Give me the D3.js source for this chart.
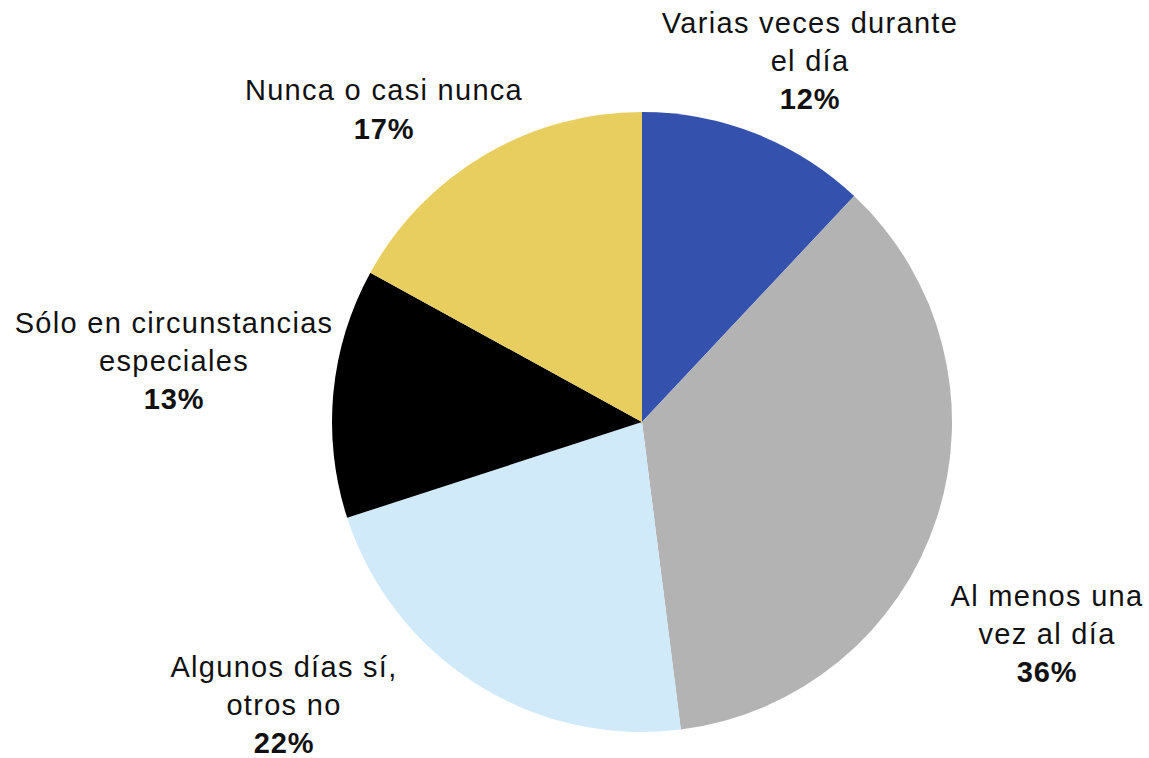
<!DOCTYPE html>
<html>
<head>
<meta charset="utf-8">
<script src="https://cdn.jsdelivr.net/npm/d3@7"></script>
<style>
  body { margin: 0; background: #fff; }
  text { font-family: "Liberation Sans", Arial, sans-serif; fill: #111; }
</style>
</head>
<body>
<div id="chart"></div>
<script>
// categories and values (clockwise from 12 o'clock)
var categories = [
  ["Varias veces durante", "el día"],
  ["Al menos una", "vez al día"],
  ["Algunos días sí,", "otros no"],
  ["Sólo en circunstancias", "especiales"],
  ["Nunca o casi nunca"]
];
var values = [12, 36, 22 , 13, 17];
var colors = ["#3551ae", "#b3b3b3", "#d0eafa", "#000000", "#e8ce5f"];

// label anchor (baseline of first line) for each slice
var labelPos = [[810, 33], [1047, 606], [284, 677], [174, 333], [384, 100]];

var width = 1149, height = 758;
var cx = 642, cy = 422, radius = 310;
var lineH = 37.5;

var svg = d3.select("#chart").append("svg")
  .attr("width", width)
  .attr("height", height);

var pie = d3.pie().sort(null).value(function(d) { return d; });
var arc = d3.arc().innerRadius(0).outerRadius(radius);

var g = svg.append("g").attr("transform", "translate(" + cx + "," + cy + ")");

g.selectAll("path")
  .data(pie(values))
  .enter().append("path")
    .attr("d", arc)
    .attr("fill", function(d, i) { return colors[i]; });

// labels
var lab = svg.selectAll("g.label")
  .data(categories)
  .enter().append("g")
    .attr("class", "label")
    .attr("transform", function(d, i) { return "translate(" + labelPos[i][0] + "," + labelPos[i][1] + ")"; });

lab.each(function(d, i) {
  var t = d3.select(this);
  d.forEach(function(line, j) {
    t.append("text")
      .attr("text-anchor", "middle")
      .attr("y", j * lineH)
      .attr("font-size", 29)
      .attr("letter-spacing", 1.3)
      .text(line);
  });
  t.append("text")
    .attr("text-anchor", "middle")
    .attr("y", d.length * lineH + 1)
    .attr("font-size", 29)
    .attr("letter-spacing", 0.8)
    .attr("font-weight", "bold")
    .text(values[i] + "%");
});
</script>
</body>
</html>
